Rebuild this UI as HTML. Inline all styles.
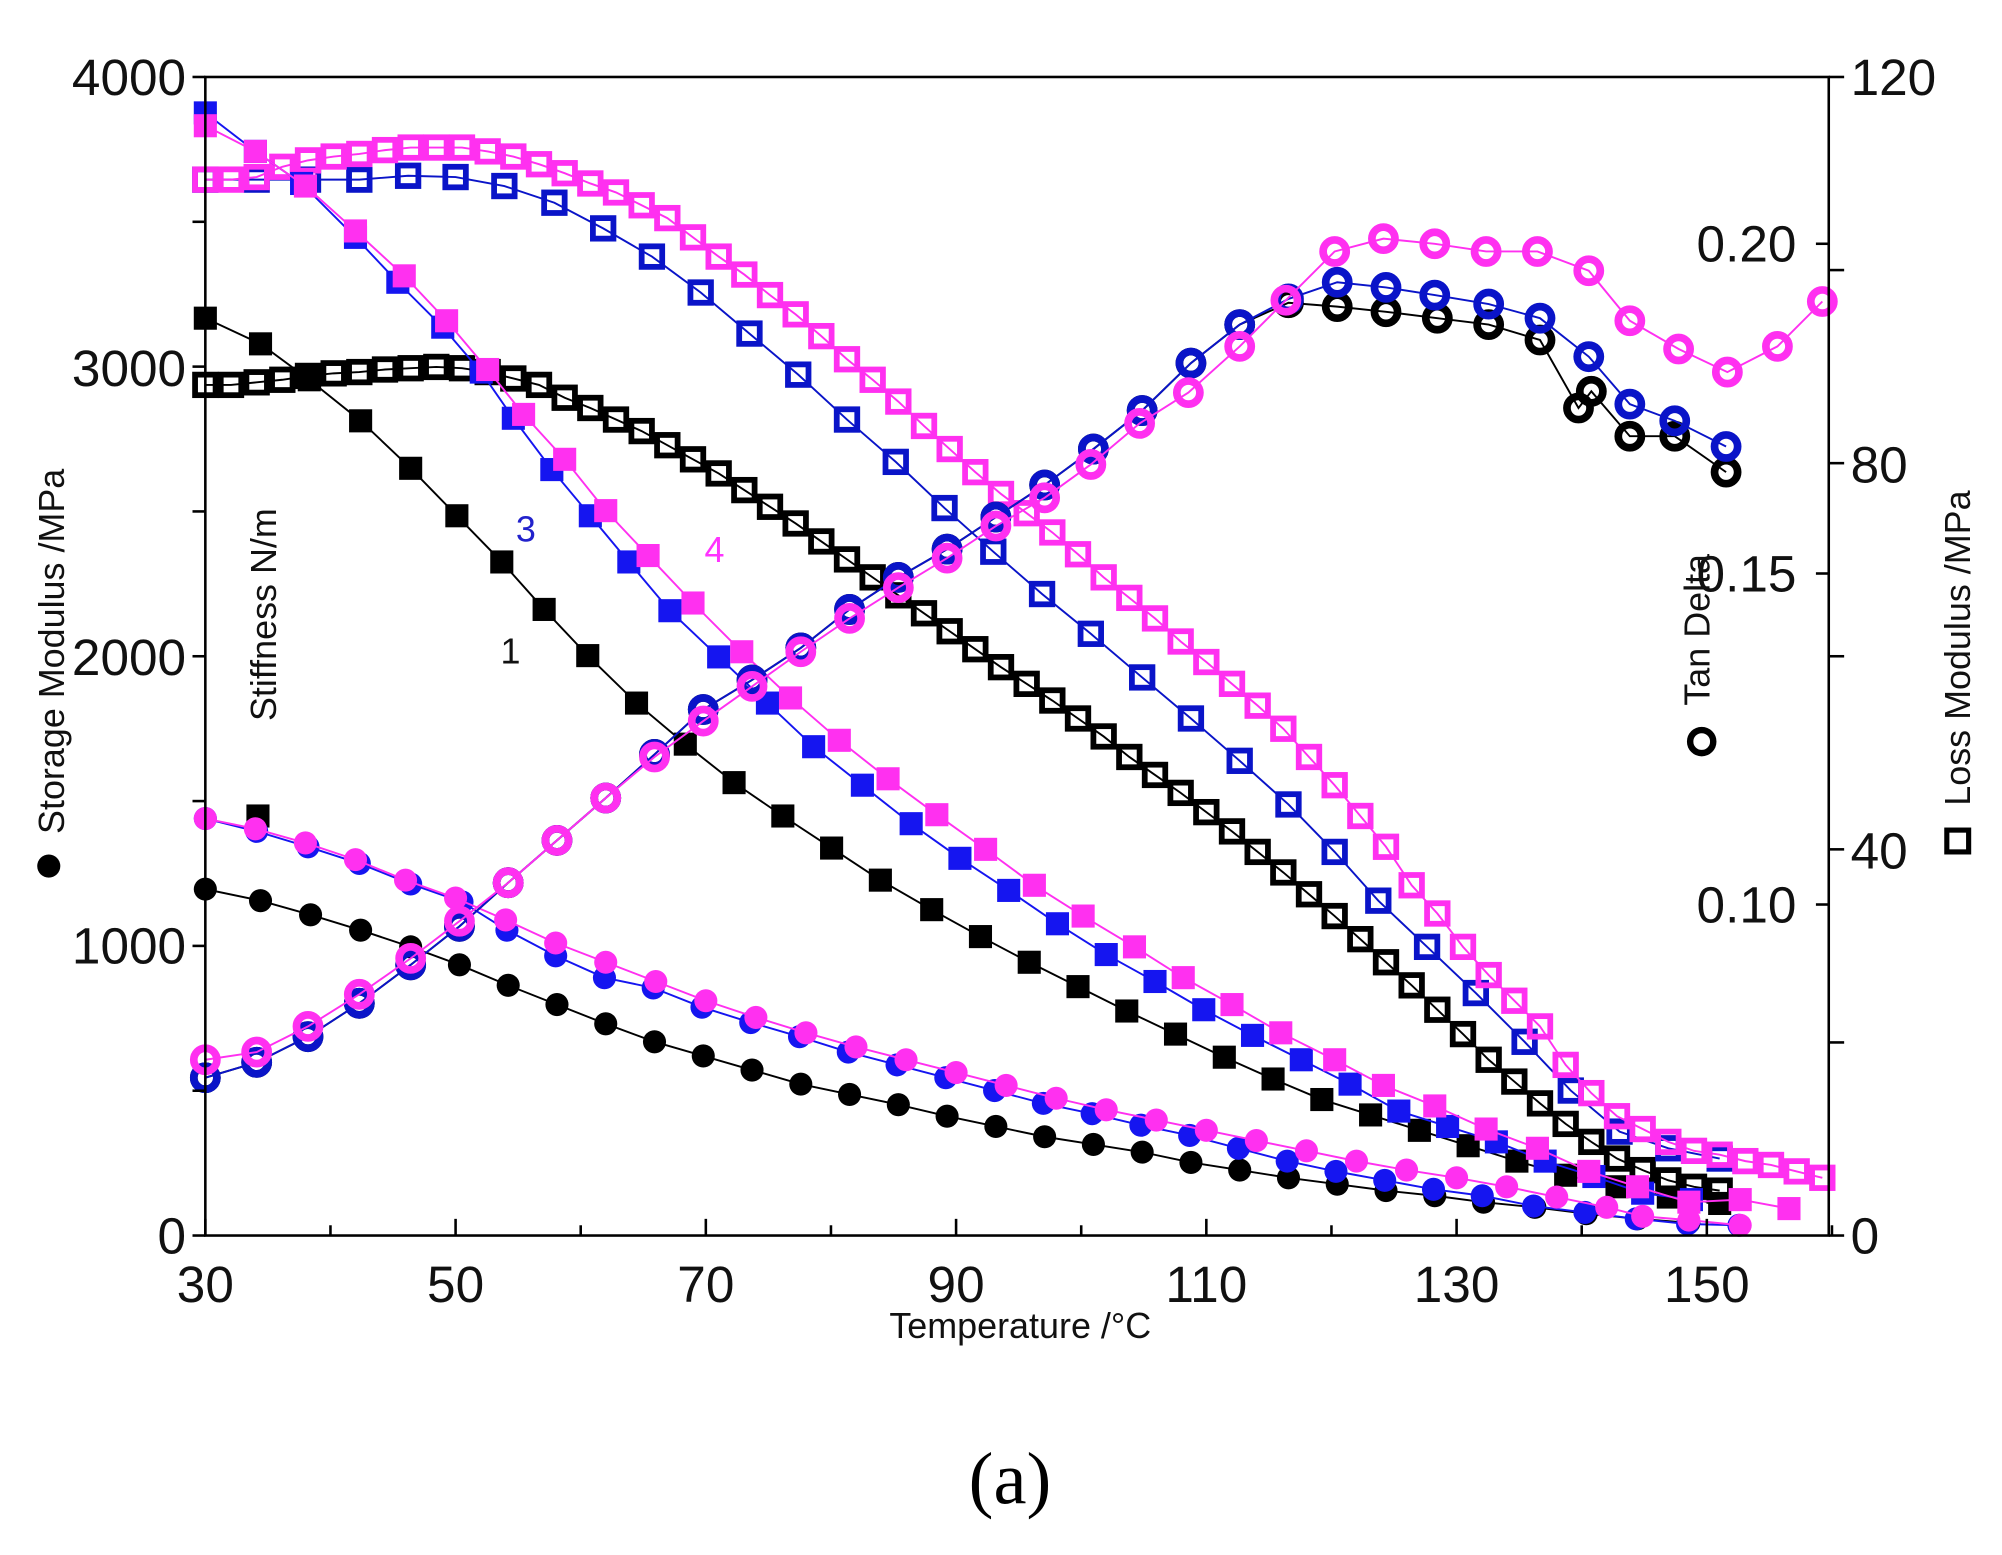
<!DOCTYPE html>
<html><head><meta charset="utf-8"><style>html,body{margin:0;padding:0;background:#fff}svg{display:block}</style></head>
<body>
<svg id="s" width="2002" height="1555" viewBox="0 0 1560 1212" preserveAspectRatio="none" xmlns="http://www.w3.org/2000/svg" font-family="Liberation Sans, sans-serif">
<rect x="0" y="0" width="1560" height="1212" fill="#fff"/>
<g id="plot"></g>
<rect x="160" y="60" width="1265" height="903" fill="none" stroke="#000" stroke-width="2"/>
<g id="ticks" stroke="#000" stroke-width="2"></g>
<g font-size="40" fill="#111" text-anchor="end">
<text x="145" y="74">4000</text><text x="145" y="301">3000</text><text x="145" y="526">2000</text><text x="145" y="751">1000</text><text x="145" y="977">0</text>
</g>
<g font-size="40" fill="#111" text-anchor="start">
<text x="1442" y="74">120</text><text x="1442" y="376">80</text><text x="1442" y="677">40</text><text x="1442" y="977">0</text>
<text x="1322" y="204">0.20</text><text x="1322" y="461">0.15</text><text x="1322" y="719">0.10</text>
</g>
<g font-size="40" fill="#111" text-anchor="middle">
<text x="160" y="1015">30</text><text x="355" y="1015">50</text><text x="550" y="1015">70</text><text x="745" y="1015">90</text><text x="940" y="1015">110</text><text x="1135" y="1015">130</text><text x="1330" y="1015">150</text>
</g>
<text x="795" y="1043" font-size="28" text-anchor="middle" fill="#111">Temperature /°C</text>
<text x="787" y="1172" font-size="58" text-anchor="middle" font-family="Liberation Serif, serif" fill="#000">(a)</text>
<circle cx="38" cy="675" r="9" fill="#000"/>
<text transform="translate(50,650) rotate(-90)" font-size="28" fill="#111">Storage Modulus /MPa</text>
<text transform="translate(215,562) rotate(-90)" font-size="28" fill="#111">Stiffness N/m</text>
<circle cx="1326" cy="578" r="9" fill="none" stroke="#000" stroke-width="5"/>
<text transform="translate(1332,550) rotate(-90)" font-size="28" fill="#111">Tan Delta</text>
<rect x="1517" y="647" width="17" height="17" fill="none" stroke="#000" stroke-width="4"/>
<text transform="translate(1535,628) rotate(-90)" font-size="28" fill="#111">Loss Modulus /MPa</text>
<text x="402" y="422" font-size="28" fill="#2222cc">3</text>
<text x="549" y="438" font-size="28" fill="#ff33ff">4</text>
<text x="390" y="517" font-size="28" fill="#111">1</text>
</svg>
<script>
var NS="http://www.w3.org/2000/svg",P=document.getElementById('plot'),T=document.getElementById('ticks');
function el(n,a,par){var e=document.createElementNS(NS,n);for(var k in a)e.setAttribute(k,a[k]);(par||P).appendChild(e);return e;}
function pts(s){var a=s.trim().split(/\s+/),r=[];for(var i=0;i<a.length;i+=2)r.push([+a[i],+a[i+1]]);return r;}
function series(s,col,type){var p=pts(s);el('polyline',{points:p.map(q=>q.join(',')).join(' '),fill:'none',stroke:col,'stroke-width':1.5});
p.forEach(function(q){var x=q[0],y=q[1];
if(type=='fs')el('rect',{x:x-9,y:y-9,width:18,height:18,fill:col});
else if(type=='os')el('rect',{x:x-8,y:y-8,width:16,height:16,fill:'none',stroke:col,'stroke-width':4.5});
else if(type=='fc')el('circle',{cx:x,cy:y,r:9,fill:col});
else el('circle',{cx:x,cy:y,r:9,fill:'none',stroke:col,'stroke-width':6});});}
var BL='#000',BU='#1515f0',OB='#0a14c8',MG='#ff30f0';
// loss open squares
series("160 300 180 300 200 298 220 296 240 293 260 291 280 290 300 288 320 287 340 286 360 287 380 290 400 295 420 300 440 310 460 318 480 327 500 336 520 347 540 358 560 369 580 382 600 395 620 408 640 422 660 436 680 450 700 464 720 478 740 492 760 506 780 520 800 533 820 546 840 560 860 574 880 590 900 604 920 618 940 633 960 648 980 664 1000 680 1020 697 1040 714 1060 732 1080 750 1100 768 1120 787 1140 806 1160 826 1180 843 1200 860 1220 876 1240 890 1260 903 1280 912 1300 920 1320 925 1340 928",BL,'os');
series("160 140 200 140 240 140 280 140 318 137 355 138 393 145 432 158 470 178 508 200 546 228 584 260 622 292 660 327 698 360 736 396 774 430 812 463 850 494 890 528 928 560 966 593 1004 627 1040 664 1074 702 1112 738 1150 774 1188 812 1224 850 1262 882 1300 895 1340 903",OB,'os');
series("160 140 180 140 200 138 220 130 240 125 260 122 280 120 300 117 320 115 340 115 360 115 380 118 400 122 420 128 440 135 460 143 480 150 500 160 520 170 540 185 560 200 580 214 600 230 620 245 640 262 660 280 680 296 700 313 720 332 740 350 760 368 780 385 800 400 820 415 840 432 860 450 880 466 900 482 920 500 940 516 960 533 980 550 1000 568 1020 590 1040 612 1060 636 1080 660 1100 690 1120 712 1140 738 1160 760 1180 780 1200 800 1220 830 1240 852 1260 870 1280 880 1300 890 1320 897 1340 900 1360 905 1380 908 1400 913 1420 918",MG,'os');
// storage filled squares
series("160 248 203 268 241 296 281 328 320 365 356 402 391 438 424 475 458 511 496 548 534 580 572 610 610 636 648 661 686 686 726 709 764 730 802 750 840 769 878 788 916 806 954 824 992 841 1030 857 1068 869 1106 881 1144 893 1182 905 1220 916 1260 925 1300 933 1340 938",BL,'fs');
el('rect',{x:192,y:627,width:18,height:18,fill:BL});
series("160 88 199 118 235 143 277 185 310 220 345 255 375 290 400 326 430 366 460 402 490 438 522 476 560 512 598 548 634 582 672 612 710 642 748 669 786 694 824 720 862 744 900 765 938 787 976 807 1014 826 1052 845 1090 866 1128 878 1166 890 1204 905 1242 917 1280 930 1318 935",BU,'fs');
series("160 98 199 118 238 145 277 180 315 215 348 250 380 288 408 323 440 358 472 398 505 433 540 470 578 508 616 544 654 577 692 607 730 635 768 662 806 690 844 714 884 738 922 762 960 783 998 805 1040 826 1078 846 1118 862 1158 880 1198 895 1238 913 1276 925 1316 937 1356 935 1394 942",MG,'fs');
// storage filled circles
series("160 693 203 702 242 713 281 725 320 738 358 752 396 768 434 783 472 798 510 812 548 823 586 834 624 845 662 853 700 861 738 870 776 878 814 886 852 892 890 898 928 906 966 912 1004 918 1042 923 1080 928 1118 932 1156 937 1196 941 1236 946 1276 950 1316 953",BL,'fc');
series("160 638 200 648 240 660 280 673 320 689 360 703 395 725 433 745 471 762 509 770 547 785 585 797 623 808 661 820 699 830 737 840 775 850 813 860 851 868 889 877 927 885 965 895 1003 905 1041 913 1079 920 1117 927 1155 932 1195 940 1235 945 1275 950 1315 954 1355 955",BU,'fc');
series("160 638 199 646 238 657 277 670 316 686 355 700 394 717 433 735 472 750 511 765 550 780 589 793 628 805 667 816 706 826 745 836 784 846 823 856 862 865 901 873 940 881 979 889 1018 897 1057 905 1096 912 1135 918 1174 925 1213 933 1252 941 1280 948 1316 951 1356 955",MG,'fc');
// tan delta
var base="160 840 200 828 240 808 280 782 320 752 358 722 396 688 434 655 472 622 510 588 548 553 586 530 624 505 662 475 700 450 738 428 776 403 814 378 852 350 890 320 928 283 966 253 ";
series(base+"1004 236 1042 239 1080 243 1120 248 1160 253 1200 265 1230 318 1240 305 1270 340 1305 340 1345 368",BL,'oc');
series(base+"1004 233 1042 220 1080 224 1118 230 1160 237 1200 248 1238 278 1270 315 1305 328 1345 348",OB,'oc');
series("160 826 200 820 240 800 280 775 320 747 358 718 396 688 434 655 472 622 510 590 548 562 586 535 624 508 662 482 700 458 738 435 776 410 814 388 850 362 888 330 926 306 966 270 1002 234 1040 196 1078 186 1118 190 1158 196 1198 196 1238 211 1270 250 1308 272 1346 290 1385 270 1420 235",MG,'oc');
// ticks
for(var i=0;i<=13;i++){var x=160+i*97.5;el('line',{x1:x,y1:963,x2:x,y2:i%2?955:950},T);}
for(var v=0;v<=4000;v+=500){var y=963-v*0.22575;el('line',{x1:150,y1:y,x2:160,y2:y},T);}
for(var v=0;v<=120;v+=20){var y=963-v*7.525;el('line',{x1:1425,y1:y,x2:1437,y2:y},T);}
[190,447,705].forEach(function(y){el('line',{x1:1415,y1:y,x2:1425,y2:y},T);});
</script>
</body></html>
